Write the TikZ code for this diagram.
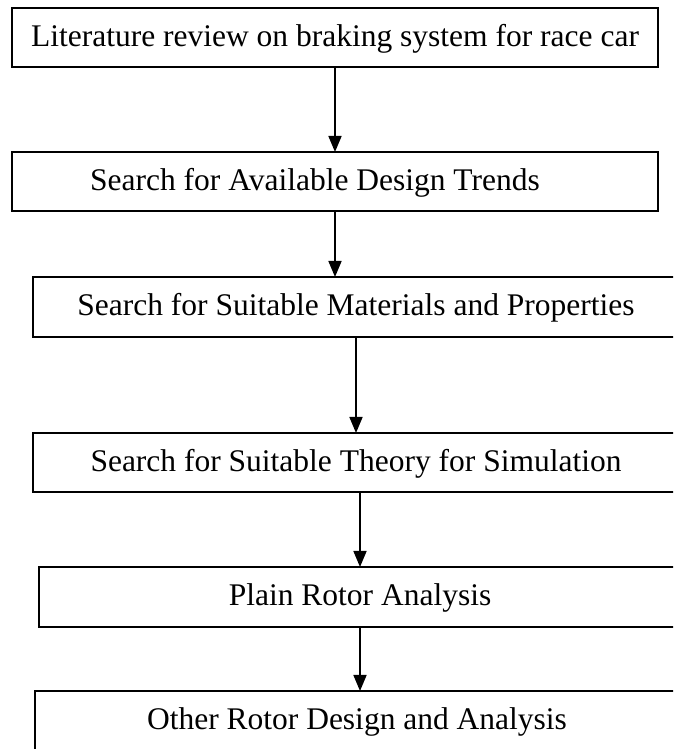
\documentclass[tikz,border=0pt]{standalone}
\usepackage{fontspec}
\setmainfont{Liberation Serif}
\usetikzlibrary{arrows.meta}
\begin{document}
\begin{tikzpicture}[x=1pt,y=1pt,
  stepbox/.style={draw, line width=1.8pt, inner sep=0pt, outer sep=0pt,
    minimum height=59pt, text height=20pt, text depth=2pt,
    font=\fontsize{31.5}{36}\selectfont},
  flow/.style={line width=1.7pt, -{Triangle[length=16pt,width=13pt]}}]
\clip (0,0) rectangle (673,749);
\fill[white] (0,0) rectangle (673,749);
\node[stepbox, minimum width=646pt] (b1) at (335,711.5)
  {Literature review on braking system for race car};
\node[stepbox, minimum width=646pt] (b2) at (335,567.5)
  {\kern-20pt Search for Available Design Trends\kern20pt};
\node[stepbox, minimum width=646pt, minimum height=60pt] (b3) at (356,442)
  {Search for Suitable Materials and Properties};
\node[stepbox, minimum width=646pt] (b4) at (356,286.5)
  {Search for Suitable Theory for Simulation};
\node[stepbox, minimum width=642pt, minimum height=60pt] (b5) at (360,152)
  {Plain Rotor Analysis};
\node[stepbox, minimum width=644pt, minimum height=60pt] (b6) at (357,28)
  {Other Rotor Design and Analysis};
\draw[flow] (b1.south) -- (b2.north);
\draw[flow] (b2.south) -- (b3.north -| b2.south);
\draw[flow] (b3.south) -- (b4.north);
\draw[flow] (b4.south -| b5.north) -- (b5.north);
\draw[flow] (b5.south) -- (b5.south |- b6.north);
\end{tikzpicture}
\end{document}
